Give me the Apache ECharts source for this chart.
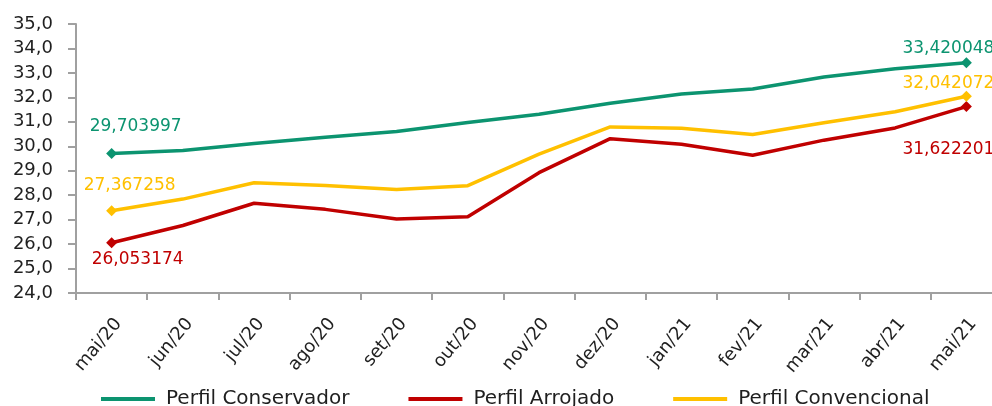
<!DOCTYPE html>
<html>
<head>
<meta charset="utf-8">
<script src="https://cdn.jsdelivr.net/npm/echarts@6/dist/echarts.min.js"></script>
<style>
html,body{margin:0;padding:0;background:#fff;}
#chart{width:992px;height:406px;}
</style>
</head>
<body>
<div id="chart"></div>
<script>
const categories = ['mai/20','jun/20','jul/20','ago/20','set/20','out/20','nov/20','dez/20','jan/21','fev/21','mar/21','abr/21','mai/21'];
const seriesNames = ['Perfil Conservador','Perfil Arrojado','Perfil Convencional'];
const conservador = [29.703997, 29.83, 30.11, 30.37, 30.60, 30.97, 31.31, 31.76, 32.14, 32.34, 32.83, 33.17, 33.420048];
const arrojado = [26.053174, 26.76, 27.67, 27.42, 27.03, 27.12, 28.92, 30.31, 30.08, 29.63, 30.25, 30.75, 31.622201];
const convencional = [27.367258, 27.84, 28.51, 28.40, 28.23, 28.39, 29.68, 30.79, 30.74, 30.48, 30.96, 31.41, 32.042072];
const yTicks = [24,25,26,27,28,29,30,31,32,33,34,35];

const colors = ['#0C9470','#C00000','#FFC000'];
const FONT = 'DejaVu Sans';

function fmt(v){ return String(v).replace('.', ','); }

// label offsets for first / last points (presentation only)
const labelOffsets = [
  [[24,-27],[-18,-14]],
  [[26,17],[-18,43]],
  [[18,-25],[-18,-13]]
];

function buildData(values, si){
  const last = values.length - 1;
  return values.map((v, i) => {
    if (i === 0 || i === last) {
      return {
        value: v,
        symbol: 'diamond',
        symbolSize: 11,
        label: {
          show: true,
          position: 'inside',
          offset: labelOffsets[si][i === 0 ? 0 : 1],
          formatter: fmt(v),
          color: colors[si],
          fontFamily: FONT,
          fontSize: 17
        }
      };
    }
    return { value: v, symbolSize: 0 };
  });
}

const allSeries = [conservador, arrojado, convencional];

const chart = echarts.init(document.getElementById('chart'), null, {renderer:'canvas'});
chart.setOption({
  animation: false,
  backgroundColor: '#fff',
  color: colors,
  grid: { left: 76, width: 926, top: 24, height: 269, containLabel: false, outerBoundsMode: 'none' },
  legend: {
    data: seriesNames.map(n => ({ name: n, icon: 'rect' })),
    left: 96,
    top: 384,
    itemWidth: 54,
    itemHeight: 4,
    itemGap: 59,
    textStyle: { fontFamily: FONT, fontSize: 20, color: '#1f1f1f', padding: [0,0,0,6] }
  },
  xAxis: {
    type: 'category',
    data: categories,
    boundaryGap: true,
    axisLine: { lineStyle: { color: '#A0A0A0', width: 2 } },
    axisTick: { show: true, length: 7, alignWithLabel: false, lineStyle: { color: '#A0A0A0', width: 2 } },
    axisLabel: { rotate: 50, margin: 22, interval: 0, verticalAlign: 'top', fontFamily: FONT, fontSize: 18, color: '#1f1f1f' },
    splitLine: { show: false }
  },
  yAxis: {
    type: 'value',
    min: yTicks[0],
    max: yTicks[yTicks.length - 1],
    interval: 1,
    axisLine: { show: true, lineStyle: { color: '#A0A0A0', width: 2 } },
    axisTick: { show: true, length: 8, lineStyle: { color: '#A0A0A0', width: 2 } },
    axisLabel: { margin: 23, fontFamily: FONT, fontSize: 18, color: '#1f1f1f', formatter: v => v.toFixed(1).replace('.', ',') },
    splitLine: { show: false }
  },
  series: allSeries.map((vals, si) => ({
    name: seriesNames[si],
    type: 'line',
    data: buildData(vals, si),
    symbol: 'diamond',
    symbolSize: 0,
    showSymbol: true,
    showAllSymbol: true,
    smooth: false,
    lineStyle: { width: 3.5, color: colors[si] },
    itemStyle: { color: colors[si] },
    emphasis: { disabled: true },
    z: 2 + si
  }))
});
</script>
</body>
</html>
